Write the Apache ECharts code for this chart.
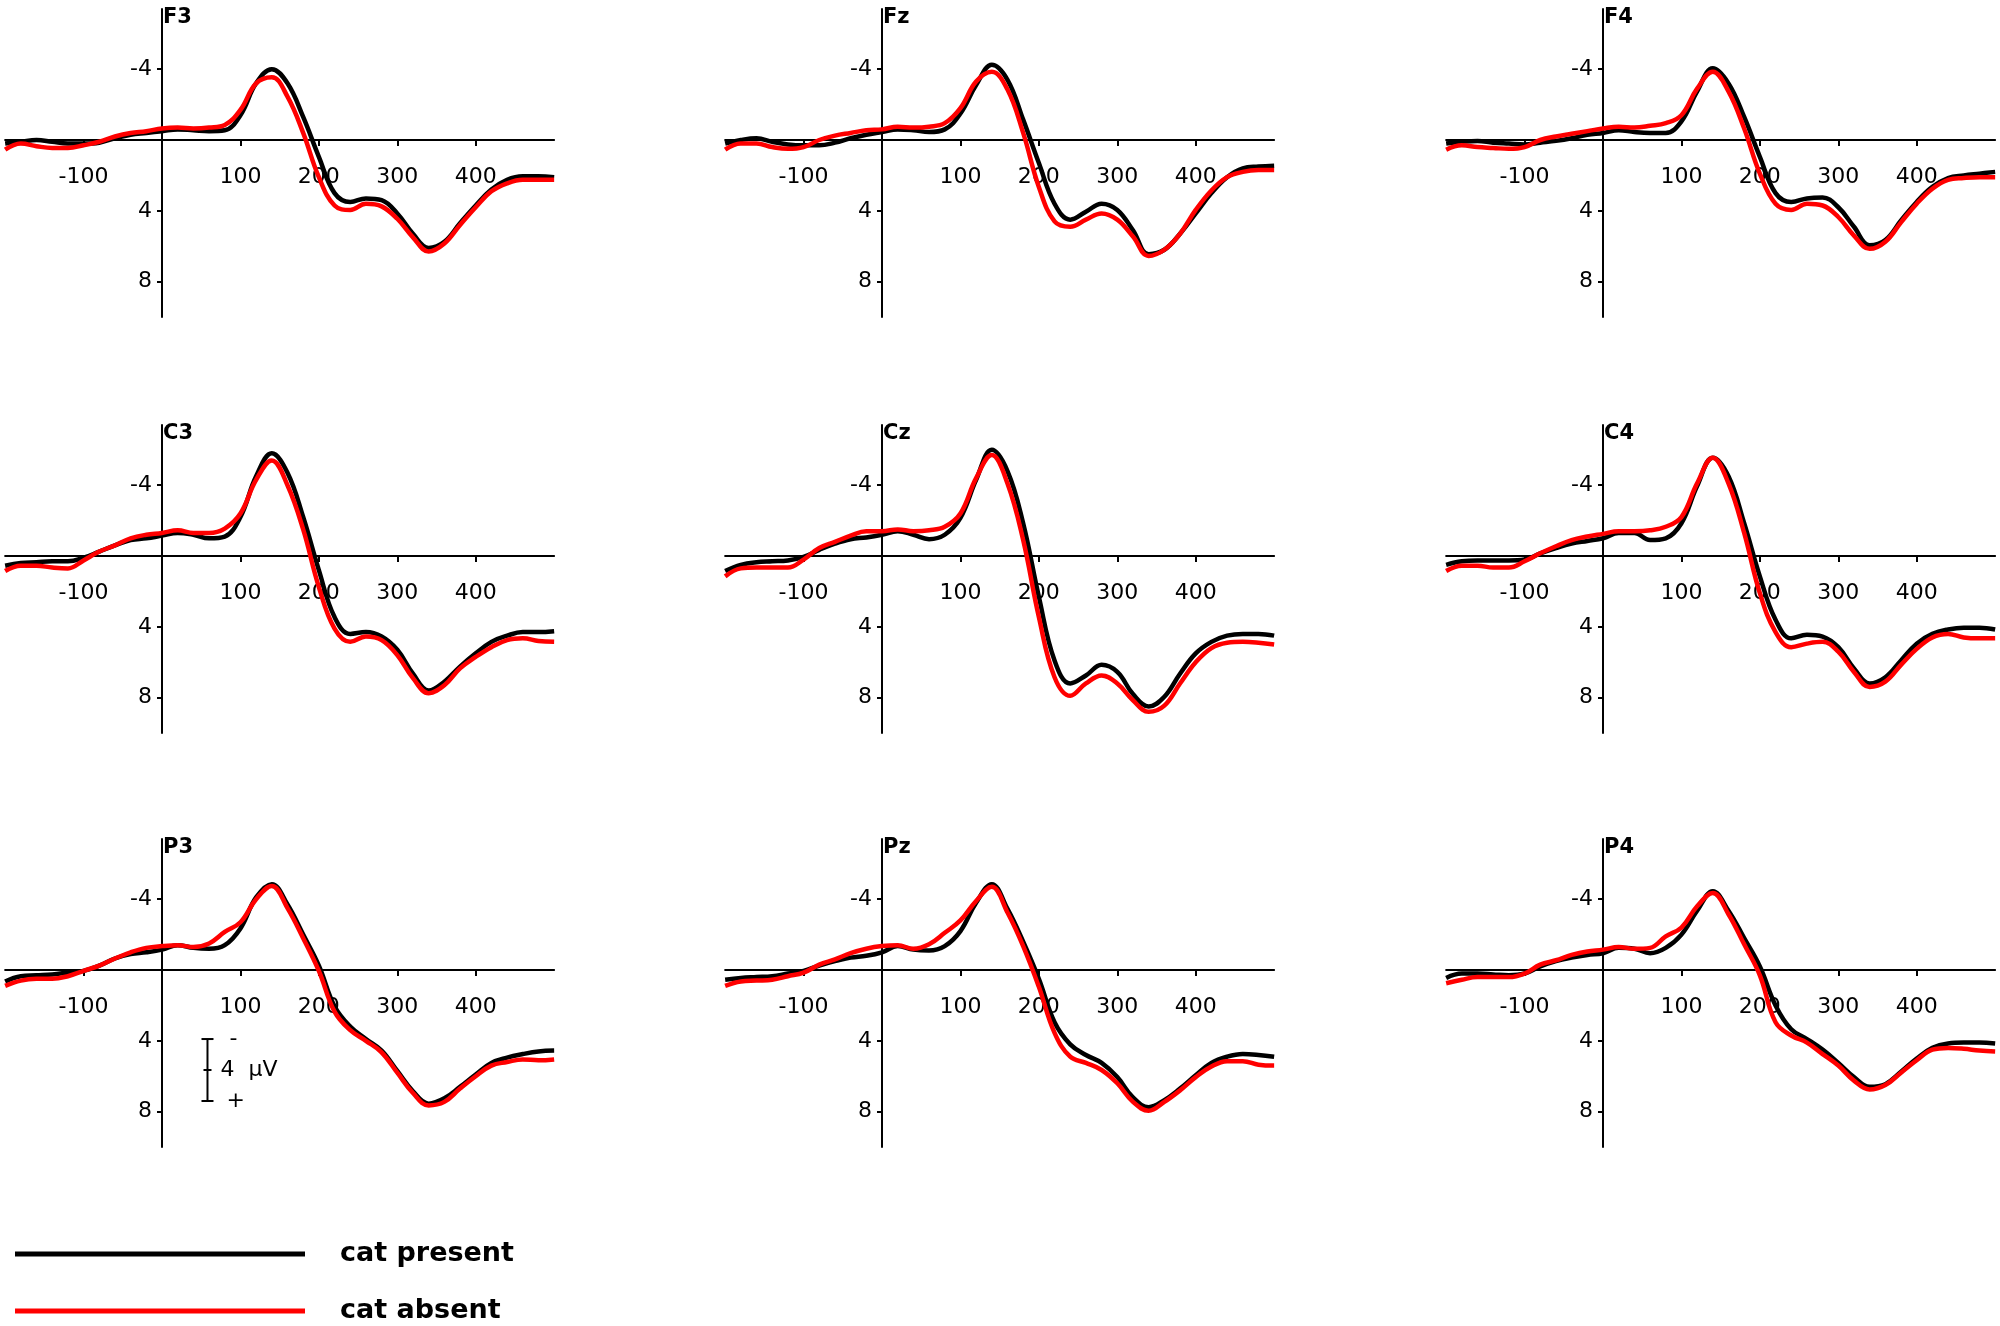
<!DOCTYPE html>
<html>
<head>
<meta charset="utf-8">
<script src="https://cdn.jsdelivr.net/npm/echarts@6/dist/echarts.min.js"></script>
<style>
  html, body { margin: 0; padding: 0; background: #fff; }
  #main { width: 2000px; height: 1326px; }
</style>
</head>
<body>
<div id="main"></div>
<script>
// time axis in ms, one sample every 20 ms
const times = [-200, -180, -160, -140, -120, -100, -80, -60, -40, -20, 0, 20, 40, 60, 80, 100, 120, 140, 160, 180,
    200, 220, 240, 260, 280, 300, 320, 340, 360, 380, 400, 420, 440, 460, 480, 500];

const electrodes = ['F3', 'Fz', 'F4', 'C3', 'Cz', 'C4', 'P3', 'Pz', 'P4'];

// amplitudes in µV (negative up), black = cat present, red = cat absent
const f3Present = [0.2, 0.1, 0, 0.1, 0.2, 0.2, 0.15, -0.1, -0.3, -0.4, -0.5, -0.6, -0.55, -0.5, -0.55, -1.4, -3.2, -4.0, -3.2, -1.3, 0.95, 3.0, 3.5, 3.3, 3.4, 4.15, 5.3, 6.1, 5.75, 4.7, 3.7, 2.8, 2.25, 2.05, 2.05, 2.1];
const f3Absent = [0.55, 0.2, 0.35, 0.45, 0.45, 0.3, 0.1, -0.2, -0.4, -0.5, -0.65, -0.7, -0.65, -0.7, -0.85, -1.7, -3.2, -3.55, -2.45, -0.4, 2.1, 3.7, 3.95, 3.6, 3.75, 4.45, 5.5, 6.3, 5.85, 4.8, 3.8, 2.9, 2.45, 2.25, 2.25, 2.25];
const fzPresent = [0.2, 0, -0.1, 0.1, 0.25, 0.3, 0.3, 0.15, -0.1, -0.3, -0.45, -0.6, -0.55, -0.45, -0.6, -1.5, -3.1, -4.25, -3.4, -1.15, 1.3, 3.6, 4.5, 4.05, 3.6, 3.95, 5.1, 6.45, 6.2, 5.3, 4.15, 3.0, 2.1, 1.6, 1.5, 1.45];
const fzAbsent = [0.55, 0.2, 0.2, 0.4, 0.5, 0.4, 0, -0.25, -0.4, -0.55, -0.6, -0.75, -0.7, -0.75, -0.95, -1.8, -3.3, -3.85, -2.85, -0.4, 2.65, 4.6, 4.9, 4.5, 4.15, 4.5, 5.45, 6.55, 6.2, 5.3, 3.95, 2.85, 2.1, 1.8, 1.7, 1.7];
const f4Present = [0.2, 0.1, 0.05, 0.15, 0.2, 0.25, 0.15, 0.05, -0.1, -0.3, -0.4, -0.55, -0.45, -0.4, -0.4, -1.05, -2.75, -4.05, -3.2, -1.3, 0.95, 3.0, 3.5, 3.3, 3.25, 3.8, 4.9, 5.95, 5.65, 4.55, 3.5, 2.65, 2.15, 2.0, 1.9, 1.8];
const f4Absent = [0.55, 0.3, 0.4, 0.45, 0.5, 0.4, 0, -0.2, -0.35, -0.5, -0.65, -0.75, -0.7, -0.8, -0.95, -1.4, -2.9, -3.85, -2.75, -0.65, 1.9, 3.6, 3.95, 3.6, 3.7, 4.35, 5.4, 6.15, 5.75, 4.65, 3.6, 2.75, 2.25, 2.15, 2.1, 2.1];
const c3Present = [0.55, 0.4, 0.35, 0.3, 0.3, 0.1, -0.25, -0.6, -0.9, -1.0, -1.15, -1.3, -1.2, -1.0, -1.1, -2.2, -4.5, -5.8, -4.7, -2.2, 0.8, 3.45, 4.4, 4.3, 4.55, 5.3, 6.65, 7.6, 7.1, 6.25, 5.5, 4.85, 4.5, 4.3, 4.3, 4.25];
const c3Absent = [0.85, 0.55, 0.55, 0.65, 0.7, 0.25, -0.25, -0.6, -1.0, -1.2, -1.3, -1.45, -1.3, -1.3, -1.55, -2.4, -4.3, -5.4, -4.0, -1.5, 1.75, 4.1, 4.85, 4.55, 4.75, 5.6, 6.9, 7.75, 7.3, 6.35, 5.7, 5.15, 4.75, 4.65, 4.8, 4.85];
const czPresent = [0.85, 0.5, 0.35, 0.3, 0.25, 0.05, -0.35, -0.7, -0.95, -1.05, -1.2, -1.4, -1.2, -0.95, -1.2, -2.15, -4.3, -6.0, -4.8, -1.85, 2.3, 5.9, 7.2, 6.75, 6.15, 6.55, 7.8, 8.5, 7.95, 6.65, 5.5, 4.85, 4.5, 4.4, 4.4, 4.5];
const czAbsent = [1.15, 0.7, 0.65, 0.65, 0.65, 0.2, -0.45, -0.8, -1.15, -1.4, -1.4, -1.5, -1.4, -1.45, -1.65, -2.4, -4.4, -5.7, -4.1, -0.9, 3.45, 6.85, 7.9, 7.2, 6.75, 7.2, 8.15, 8.8, 8.45, 7.2, 6.0, 5.2, 4.9, 4.85, 4.9, 5.0];
const c4Present = [0.5, 0.3, 0.25, 0.25, 0.25, 0.2, -0.15, -0.45, -0.7, -0.85, -1.0, -1.3, -1.3, -0.9, -1.0, -1.85, -3.95, -5.55, -4.5, -1.85, 1.15, 3.6, 4.65, 4.45, 4.55, 5.15, 6.35, 7.2, 6.85, 5.9, 4.95, 4.4, 4.15, 4.05, 4.05, 4.15];
const c4Absent = [0.85, 0.55, 0.55, 0.65, 0.65, 0.3, -0.15, -0.55, -0.9, -1.1, -1.25, -1.4, -1.4, -1.45, -1.65, -2.2, -4.1, -5.55, -4.1, -1.3, 2.1, 4.3, 5.15, 4.95, 4.85, 5.4, 6.55, 7.4, 7.1, 6.15, 5.25, 4.6, 4.4, 4.6, 4.65, 4.65];
const p3Present = [0.65, 0.35, 0.3, 0.25, 0.15, 0.05, -0.25, -0.65, -0.9, -1.0, -1.15, -1.4, -1.25, -1.2, -1.4, -2.35, -4.1, -4.85, -3.7, -2.0, -0.25, 2.05, 3.2, 3.9, 4.55, 5.7, 6.85, 7.55, 7.25, 6.6, 5.9, 5.25, 4.95, 4.75, 4.6, 4.55];
const p3Absent = [0.9, 0.6, 0.5, 0.5, 0.35, 0.05, -0.25, -0.65, -1.0, -1.25, -1.35, -1.4, -1.3, -1.5, -2.15, -2.7, -4.0, -4.75, -3.5, -1.8, 0.05, 2.35, 3.4, 4.0, 4.65, 5.8, 6.95, 7.65, 7.45, 6.7, 6.0, 5.4, 5.2, 5.05, 5.1, 5.05];
const pzPresent = [0.55, 0.45, 0.4, 0.35, 0.2, 0.05, -0.25, -0.5, -0.7, -0.8, -1.0, -1.35, -1.15, -1.1, -1.35, -2.2, -3.8, -4.85, -3.45, -1.6, 0.5, 2.95, 4.2, 4.8, 5.25, 6.05, 7.2, 7.75, 7.35, 6.7, 5.95, 5.25, 4.9, 4.75, 4.8, 4.9];
const pzAbsent = [0.9, 0.65, 0.6, 0.55, 0.35, 0.15, -0.3, -0.6, -0.95, -1.2, -1.35, -1.4, -1.2, -1.45, -2.1, -2.8, -3.9, -4.7, -3.25, -1.35, 0.95, 3.55, 4.9, 5.25, 5.65, 6.4, 7.45, 7.95, 7.45, 6.8, 6.05, 5.45, 5.15, 5.15, 5.35, 5.4];
const p4Present = [0.45, 0.2, 0.2, 0.25, 0.3, 0.2, -0.2, -0.5, -0.7, -0.85, -0.95, -1.25, -1.2, -0.95, -1.25, -2.0, -3.35, -4.45, -3.35, -1.8, -0.2, 2.0, 3.35, 3.9, 4.5, 5.25, 6.05, 6.6, 6.45, 5.75, 5.0, 4.4, 4.15, 4.1, 4.1, 4.15];
const p4Absent = [0.75, 0.55, 0.4, 0.4, 0.4, 0.2, -0.3, -0.55, -0.85, -1.05, -1.15, -1.3, -1.2, -1.25, -1.9, -2.4, -3.6, -4.35, -3.15, -1.45, 0.3, 2.95, 3.7, 4.1, 4.75, 5.4, 6.25, 6.75, 6.5, 5.8, 5.1, 4.5, 4.4, 4.45, 4.55, 4.6];

const presentSets = [f3Present, fzPresent, f4Present, c3Present, czPresent, c4Present, p3Present, pzPresent, p4Present];
const absentSets = [f3Absent, fzAbsent, f4Absent, c3Absent, czAbsent, c4Absent, p3Absent, pzAbsent, p4Absent];

const xTicks = [-100, 100, 200, 300, 400];
const yTicks = [-4, 4, 8];

// calibration bar in the P3 panel: time, top and bottom in µV
const scaleBar = [58, 3.9, 7.4];

// layout: pixel x of each y-axis, pixel y of each zero line
const colX = [162, 882, 1603];
const rowZero = [140, 556, 970];

const X_MIN = -200, X_MAX = 500, Y_MIN = -7.4, Y_MAX = 10;
const GRID_W = 549, GRID_H = 308;
// axes cross at 0/0 inside the grid, so pull them in with a negative offset
const yOffset = -GRID_W * (0 - X_MIN) / (X_MAX - X_MIN);
const xOffset = -GRID_H * (Y_MAX - 0) / (Y_MAX - Y_MIN);

const FONT = 'DejaVu Sans';
const chart = echarts.init(document.getElementById('main'), null, { renderer: 'canvas' });

const grids = [], xAxes = [], yAxes = [], titles = [], series = [];

electrodes.forEach((name, i) => {
    const cx = colX[i % 3];
    const zy = rowZero[Math.floor(i / 3)];

    grids.push({
        left: cx + yOffset, top: zy - GRID_H - xOffset, width: GRID_W, height: GRID_H,
        outerBoundsMode: 'none', containLabel: false
    });
    titles.push({
        text: name, left: cx + 1, top: zy - 133, padding: 0,
        textStyle: { fontFamily: FONT, fontWeight: 'bold', fontSize: 21, color: '#000' }
    });
    xAxes.push({
        type: 'value', gridIndex: i, min: X_MIN, max: X_MAX,
        position: 'bottom', offset: xOffset,
        axisLine: { onZero: false, lineStyle: { color: '#000', width: 2 } },
        axisTick: { customValues: xTicks, length: 6, lineStyle: { color: '#000', width: 2 } },
        axisLabel: { customValues: xTicks, margin: 26, fontFamily: FONT, fontSize: 22, color: '#000' },
        splitLine: { show: false }
    });
    yAxes.push({
        type: 'value', gridIndex: i, min: Y_MIN, max: Y_MAX, inverse: true,
        position: 'left', offset: yOffset,
        axisLine: { show: true, onZero: false, lineStyle: { color: '#000', width: 2 } },
        axisTick: { show: true, customValues: yTicks, length: 5, lineStyle: { color: '#000', width: 2 } },
        axisLabel: { customValues: yTicks, margin: 10, fontFamily: FONT, fontSize: 22, color: '#000' },
        splitLine: { show: false }
    });
    series.push({
        name: 'cat present', type: 'line', xAxisIndex: i, yAxisIndex: i,
        data: times.map((t, k) => [t, presentSets[i][k]]),
        smooth: 0.4, symbol: 'none', silent: true,
        lineStyle: { color: '#000', width: 4.5 }, itemStyle: { color: '#000' }
    });
    series.push({
        name: 'cat absent', type: 'line', xAxisIndex: i, yAxisIndex: i,
        data: times.map((t, k) => [t, absentSets[i][k]]),
        smooth: 0.4, symbol: 'none', silent: true,
        lineStyle: { color: '#ff0000', width: 4.5 }, itemStyle: { color: '#ff0000' }
    });
});

// calibration bar: "- 4 µV +"
series.push({
    type: 'custom', xAxisIndex: 6, yAxisIndex: 6, silent: true,
    data: [scaleBar],
    renderItem: (params, api) => {
        const top = api.coord([api.value(0), api.value(1)]);
        const bot = api.coord([api.value(0), api.value(2)]);
        const midY = (top[1] + bot[1]) / 2;
        const x = top[0];
        const ls = { stroke: '#000', lineWidth: 2 };
        const txt = (t, tx, ty) => ({
            type: 'text', x: tx, y: ty,
            style: { text: t, fontFamily: FONT, fontSize: 22, fill: '#000', verticalAlign: 'middle' }
        });
        return {
            type: 'group',
            children: [
                { type: 'line', shape: { x1: x, y1: top[1], x2: x, y2: bot[1] }, style: ls },
                { type: 'line', shape: { x1: x - 6, y1: top[1], x2: x + 6, y2: top[1] }, style: ls },
                { type: 'line', shape: { x1: x - 6, y1: bot[1], x2: x + 6, y2: bot[1] }, style: ls },
                { type: 'line', shape: { x1: x - 4, y1: midY, x2: x + 4, y2: midY }, style: ls },
                txt('-', x + 22, top[1]),
                txt('4  µV', x + 13, midY),
                txt('+', x + 19, bot[1])
            ]
        };
    }
});

chart.setOption({
    backgroundColor: '#fff',
    animation: false,
    title: titles,
    grid: grids,
    xAxis: xAxes,
    yAxis: yAxes,
    legend: {
        orient: 'vertical', left: 15, top: 1239, padding: 0,
        itemWidth: 290, itemHeight: 5, itemGap: 27,
        icon: 'rect',
        data: ['cat present', 'cat absent'],
        selectedMode: false,
        textStyle: {
            fontFamily: FONT, fontWeight: 'bold', fontSize: 27, lineHeight: 30,
            color: '#000', padding: [0, 0, 0, 30]
        }
    },
    series: series
});
</script>
</body>
</html>
